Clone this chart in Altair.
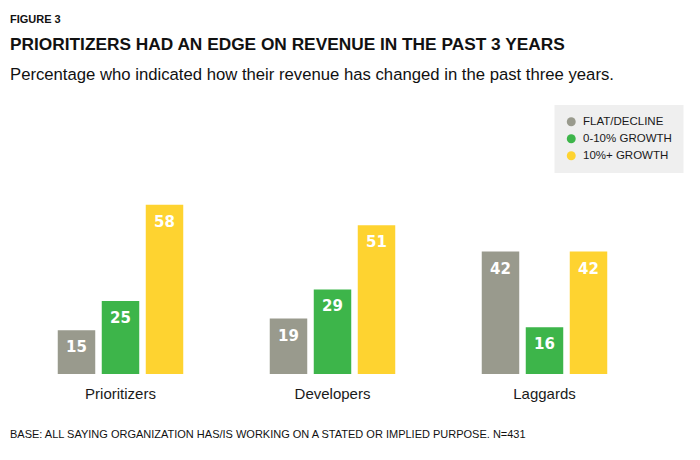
import altair as alt
import pandas as pd

groups = ["Prioritizers", "Developers", "Laggards"]
series = ["FLAT/DECLINE", "0-10% GROWTH", "10%+ GROWTH"]
flat_decline = [15, 19, 42]
growth_0_10 = [25, 29, 16]
growth_10_plus = [58, 51, 42]
colors = ["#999a8d", "#3db54a", "#fed330"]

title_lines = ["FIGURE 3", "PRIORITIZERS HAD AN EDGE ON REVENUE IN THE PAST 3 YEARS",
               "Percentage who indicated how their revenue has changed in the past three years."]
footer = "BASE: ALL SAYING ORGANIZATION HAS/IS WORKING ON A STATED OR IMPLIED PURPOSE. N=431"

rows = []
for s, vals in zip(series, [flat_decline, growth_0_10, growth_10_plus]):
    for g, v in zip(groups, vals):
        rows.append({"group": g, "series": s, "value": v})
df = pd.DataFrame(rows)

FONT = "Liberation Sans, Arial, sans-serif"

base = alt.Chart(df).encode(
    x=alt.X("group:N", sort=groups,
            scale=alt.Scale(paddingInner=0, paddingOuter=0),
            axis=alt.Axis(title=None, domain=False, ticks=False, labelAngle=0,
                          labelFontSize=15, labelFont=FONT, labelColor="#1a1a1a",
                          labelPadding=12)),
    xOffset=alt.XOffset("series:N", sort=series,
                        scale=alt.Scale(paddingInner=0.148, paddingOuter=0.983)),
    y=alt.Y("value:Q", scale=alt.Scale(domain=[0, 60]), axis=None),
)

bars = base.mark_bar().encode(
    color=alt.Color("series:N", sort=series,
                    scale=alt.Scale(domain=series, range=colors),
                    legend=alt.Legend(title=None, orient="none", legendX=540, legendY=-94,
                                      fillColor="#efefef", padding=11,
                                      symbolType="circle", symbolSize=80,
                                      symbolStrokeWidth=0, symbolOpacity=1,
                                      labelFontSize=11.5, labelFont=FONT, labelColor="#1a1a1a",
                                      rowPadding=4, labelOffset=6))
)

labels = base.mark_text(baseline="alphabetic", dy=22, color="white",
                        font="DejaVu Sans", fontWeight="bold", fontSize=15).encode(
    text="value:Q"
)

def txt(t, y, size, weight="normal"):
    return alt.Chart(pd.DataFrame({"t": [t]})).mark_text(
        align="left", baseline="alphabetic", fontSize=size, fontWeight=weight,
        font=FONT, color="#111111"
    ).encode(x=alt.value(-4.5), y=alt.value(y), text="t:N")

chart = alt.layer(
    bars, labels,
    txt(title_lines[0], -175.7, 11, "bold"),
    txt(title_lines[1], -149, 17.3, "bold"),
    txt(title_lines[2], -119, 16.7),
    txt(footer, 239.3, 11),
).properties(
    width=636, height=175,
    autosize=alt.AutoSizeParams(type="none"),
    padding={"left": 14.5, "top": 199, "right": 49.5, "bottom": 86},
).configure_view(stroke=None)

chart.save("out.html", embed_options={"renderer": "svg", "actions": False})
